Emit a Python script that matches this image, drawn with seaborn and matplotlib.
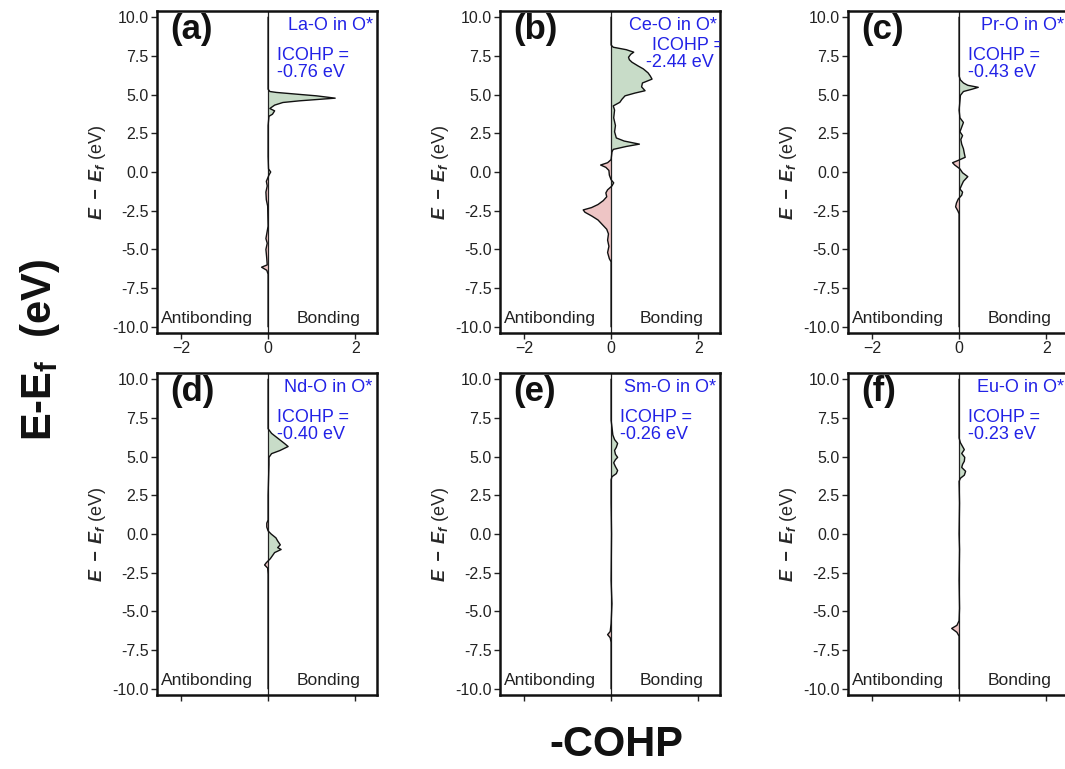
import matplotlib
matplotlib.use("Agg")
import numpy as np
import pandas as pd
import seaborn as sns
import matplotlib.pyplot as plt

# ---- -COHP curves (energy in eV relative to E_f, value = -COHP) ----
la_energy = [-10, -6.6, -6.35, -6.15, -6.0, -5.6, -5.0, -4.6, -4.3, -3.5, -2.2, -1.8, -1.3, -0.9,
             -0.6, -0.2, 0.0, 0.2, 1.0, 3.0, 3.6, 3.73, 3.95, 4.1, 4.32, 4.49, 4.6, 4.77, 4.92,
             5.01, 5.14, 5.2, 5.35, 10]
la_cohp = [0, 0, -0.03, -0.15, -0.02, -0.03, -0.05, -0.02, -0.05, 0, -0.01, -0.04, -0.05, -0.02,
           -0.04, 0.02, 0.06, 0.01, 0, 0, 0.02, 0.1, 0.15, 0.04, 0.15, 0.34, 0.73, 1.54, 1.11,
           0.73, 0.19, 0.04, 0, 0]

ce_energy = [-10, -5.8, -5.6, -5.2, -4.8, -4.4, -4.0, -3.7, -3.4, -3.1, -2.85, -2.6, -2.45, -2.3,
             -2.1, -1.85, -1.6, -1.35, -1.15, -0.9, -0.7, -0.5, -0.2, 0.1, 0.3, 0.45, 0.6, 0.8,
             1.3, 1.46, 1.65, 1.8, 2.0, 2.2, 2.6, 3.0, 3.5, 4.0, 4.27, 4.5, 4.7, 4.92, 5.1, 5.25,
             5.5, 5.75, 6.0, 6.2, 6.4, 6.66, 6.85, 7.09, 7.25, 7.41, 7.6, 7.74, 7.9, 8.06, 8.2, 10]
ce_cohp = [0, 0, -0.04, -0.08, -0.05, -0.08, -0.06, -0.1, -0.2, -0.3, -0.44, -0.6, -0.64, -0.45,
           -0.3, -0.18, -0.1, -0.12, -0.08, 0.02, 0.06, 0.0, -0.04, -0.05, -0.12, -0.24, -0.08, 0.0,
           0.02, 0.05, 0.35, 0.65, 0.3, 0.12, 0.08, 0.1, 0.06, 0.08, 0.05, 0.2, 0.25, 0.32, 0.55, 0.78,
           0.7, 0.72, 0.94, 0.9, 0.85, 0.74, 0.62, 0.48, 0.42, 0.40, 0.45, 0.52, 0.35, 0.05, 0, 0]

pr_energy = [-10, -2.7, -2.5, -2.25, -2.0, -1.75, -1.5, -1.3, -1.1, -0.9, -0.6, -0.3, -0.05, 0.2,
             0.45, 0.6, 0.75, 0.95, 1.2, 1.5, 1.8, 2.1, 2.35, 2.6, 2.9, 3.2, 3.5, 4.0, 4.6, 4.95,
             5.2, 5.35, 5.47, 5.6, 5.75, 5.95, 6.2, 10]
pr_cohp = [0, 0, -0.03, -0.08, -0.06, -0.02, 0.06, 0.08, 0.02, 0.05, 0.1, 0.2, 0.08, 0.02,
           -0.1, -0.15, -0.02, 0.14, 0.12, 0.1, 0.06, 0.04, 0.08, 0.02, 0.06, 0.1, 0.02, 0.0, 0.02, 0.03,
           0.1, 0.3, 0.44, 0.2, 0.1, 0.03, 0, 0]

nd_energy = [-10, -2.6, -2.2, -2.0, -1.85, -1.6, -1.4, -1.2, -1.0, -0.88, -0.7, -0.45, -0.25, 0.0,
             0.2, 0.45, 0.7, 0.9, 2.5, 4.5, 4.95, 5.19, 5.39, 5.65, 5.84, 6.17, 6.5, 6.8, 10]
nd_cohp = [0, 0, -0.01, -0.08, -0.04, 0.05, 0.1, 0.15, 0.3, 0.22, 0.28, 0.22, 0.18, 0.07,
           0.0, -0.03, -0.03, 0.0, 0.0, 0.02, 0.02, 0.08, 0.27, 0.46, 0.38, 0.23, 0.08, 0.0, 0]

sm_energy = [-10, -7.0, -6.7, -6.5, -6.3, -5.8, -4.5, -3.0, 0.0, 2.0, 3.5, 3.7, 3.9, 4.1, 4.35,
             4.6, 4.8, 4.95, 5.15, 5.4, 5.6, 5.85, 6.1, 6.4, 6.9, 7.35, 10]
sm_cohp = [0, 0, -0.02, -0.08, -0.02, 0, 0.02, 0.0, 0.01, 0.0, 0.0, 0.02, 0.12, 0.15, 0.1,
           0.06, 0.1, 0.15, 0.1, 0.08, 0.12, 0.15, 0.08, 0.04, 0.02, 0, 0]

eu_energy = [-10, -6.6, -6.35, -6.1, -5.9, -5.6, -4.8, -3.0, -1.0, 0.0, 2.0, 3.4, 3.6, 3.8, 4.05,
             4.3, 4.5, 4.7, 4.95, 5.2, 5.45, 5.65, 5.9, 6.2, 10]
eu_cohp = [0, 0, -0.05, -0.17, -0.05, 0, 0.01, 0.0, 0.01, 0.0, 0.01, 0.0, 0.03, 0.12, 0.15,
           0.06, 0.08, 0.12, 0.13, 0.06, 0.12, 0.08, 0.03, 0, 0]

panel_tags = ["(a)", "(b)", "(c)", "(d)", "(e)", "(f)"]
bond_names = ["La-O in O*", "Ce-O in O*", "Pr-O in O*", "Nd-O in O*", "Sm-O in O*", "Eu-O in O*"]
icohp_values = [-0.76, -2.44, -0.43, -0.40, -0.26, -0.23]

energies = [la_energy, ce_energy, pr_energy, nd_energy, sm_energy, eu_energy]
cohps = [la_cohp, ce_cohp, pr_cohp, nd_cohp, sm_cohp, eu_cohp]

x_ticks = [-2, 0, 2]
y_ticks = [-10.0, -7.5, -5.0, -2.5, 0.0, 2.5, 5.0, 7.5, 10.0]

# ---- style ----
sns.set_theme(style="ticks")
plt.rcParams["font.family"] = ["Liberation Sans", "DejaVu Sans"]
plt.rcParams["mathtext.fontset"] = "custom"
plt.rcParams["mathtext.rm"] = "Liberation Sans"
plt.rcParams["mathtext.it"] = "Liberation Sans:italic"
plt.rcParams["mathtext.bf"] = "Liberation Sans:bold"
plt.rcParams["mathtext.bfit"] = "Liberation Sans:italic:bold"

BOND_GREEN = "#c8dcc8"
ANTI_RED = "#eec5c5"
LABEL_BLUE = "#2222e6"

W, H = 1065, 769
fig = plt.figure(figsize=(W / 100, H / 100), dpi=100)

col_left = [157, 500, 848]
row_bottom = [333, 695]
ax_w, ax_h = 220, 322

axes = []
for r in range(2):
    for c in range(3):
        ax = fig.add_axes([col_left[c] / W, (H - row_bottom[r]) / H, ax_w / W, ax_h / H])
        axes.append(ax)

for i, ax in enumerate(axes):
    E = np.asarray(energies[i], dtype=float)
    v = np.asarray(cohps[i], dtype=float)
    df = pd.DataFrame({"COHP": v, "E": E})

    ax.fill_betweenx(E, 0, v, where=v >= 0, interpolate=True,
                     facecolor=BOND_GREEN, edgecolor="none", zorder=1)
    ax.fill_betweenx(E, 0, v, where=v <= 0, interpolate=True,
                     facecolor=ANTI_RED, edgecolor="none", zorder=1)
    ax.axvline(0, color="#222222", lw=0.9, zorder=2)
    sns.lineplot(data=df, x="COHP", y="E", orient="y", color="#111111",
                 lw=1.0, ax=ax, zorder=3)

    ax.set_xlim(-2.55, 2.5)
    ax.set_ylim(-10.4, 10.4)
    ax.set_xticks(x_ticks)
    ax.set_yticks(y_ticks)
    ax.set_yticklabels([f"{t:.1f}" for t in y_ticks])
    ax.tick_params(axis="both", direction="out", length=4, width=1.0,
                   labelsize=11.5, colors="#222222", pad=2)
    if i >= 3:
        ax.set_xticklabels([])
    for s in ax.spines.values():
        s.set_linewidth(1.8)
        s.set_color("#111111")

    ax.set_xlabel("")
    ax.set_ylabel(r"$\mathbfit{E\ -\ E_f}$ (eV)", fontsize=13, labelpad=3)

    ax.text(-2.25, 9.2, panel_tags[i], fontsize=25, fontweight="bold",
            ha="left", va="center", color="#111111")
    ax.text(-1.4, -9.45, "Antibonding", fontsize=12.5, ha="center", va="center", color="#222222")
    ax.text(1.38, -9.45, "Bonding", fontsize=12.5, ha="center", va="center", color="#222222")

    if i == 1:
        ax.text(2.44, 9.45, bond_names[i], fontsize=13, ha="right", va="center", color=LABEL_BLUE)
        ax.text(2.6, 8.17, "ICOHP =", fontsize=13, ha="right", va="center",
                color=LABEL_BLUE, clip_on=True)
        ax.text(2.36, 7.1, f"{icohp_values[i]:.2f} eV", fontsize=13, ha="right",
                va="center", color=LABEL_BLUE)
    else:
        ax.text(2.4, 9.47, bond_names[i], fontsize=13, ha="right", va="center", color=LABEL_BLUE)
        ax.text(0.2, 7.5, "ICOHP =", fontsize=13, ha="left", va="center", color=LABEL_BLUE)
        ax.text(0.2, 6.4, f"{icohp_values[i]:.2f} eV", fontsize=13, ha="left",
                va="center", color=LABEL_BLUE)

fig.text(40 / W, 1 - 350 / H, r"E-E$_\mathbf{f}$  (eV)", rotation=90, fontsize=30,
         fontweight="bold", ha="center", va="center", color="#111111")
fig.text(616 / W, 1 - 745 / H, "-COHP", fontsize=30, fontweight="bold",
         ha="center", va="center", color="#111111")

fig.savefig("out.png", dpi=100, facecolor="white")
